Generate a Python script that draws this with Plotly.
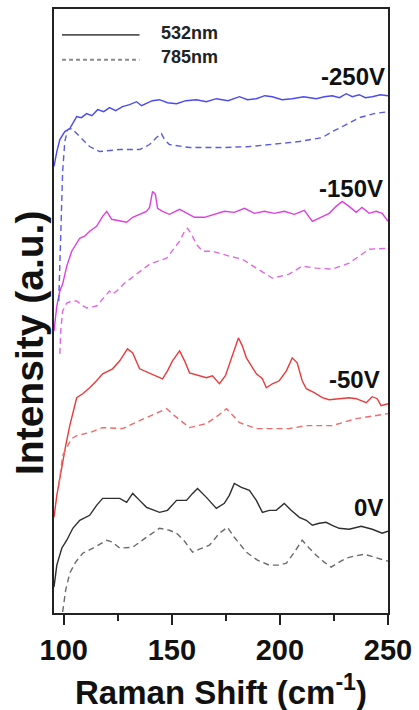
import plotly.graph_objects as go

# Raman spectra of films deposited at different substrate bias voltages.
# Each bias has a spectrum excited at 532 nm (solid) and at 785 nm (dashed);
# spectra are stacked vertically with arbitrary offsets (a.u.).

# ---- 0 V ----
x_0v_532 = [95.5, 96.8, 99.1, 101.4, 104.2, 107.4, 112.0, 115.2, 118.0, 121.2, 125.9, 129.1,
            131.9, 135.1, 138.3, 144.3, 148.0, 152.2, 156.8, 159.6, 161.9, 166.0, 170.6, 174.3,
            176.6, 178.9, 182.2, 185.9, 189.1, 191.9, 195.1, 198.3, 202.0, 205.2, 209.0, 212.2,
            215.0, 218.2, 221.4, 224.2, 227.4, 232.0, 237.6, 242.7, 247.3, 250.0]
y_0v_532 = [26, 48, 65, 73, 85, 93, 98, 108, 115, 115, 115, 111,
            120, 113, 106, 101, 103, 113, 113, 120, 125, 116, 105, 110,
            118, 130, 126, 123, 113, 101, 103, 103, 110, 103, 96, 93,
            88, 90, 91, 88, 85, 84, 87, 84, 80, 82]

x_0v_785 = [99.5, 100.9, 102.8, 105.5, 108.8, 114.3, 119.9, 122.6, 125.9, 131.9, 138.3, 144.3,
            148.9, 152.2, 155.9, 159.6, 162.8, 167.4, 172.0, 175.7, 178.9, 184.5, 189.6, 195.1,
            199.7, 203.0, 206.7, 210.3, 213.6, 216.8, 220.5, 223.7, 227.4, 230.7, 234.3, 239.0,
            243.6, 249.1, 250.0]
y_0v_785 = [1, 23, 40, 51, 60, 66, 73, 71, 65, 66, 76, 85,
            83, 80, 72, 61, 64, 68, 80, 86, 76, 61, 53, 48,
            48, 50, 61, 73, 65, 58, 51, 46, 51, 55, 57, 59,
            56, 53, 52]

# ---- -50 V ----
x_50v_532 = [95.5, 96.8, 98.2, 99.5, 100.9, 102.8, 104.6, 106.0, 108.8, 112.0, 115.2, 118.0,
             122.6, 125.9, 129.5, 131.9, 135.1, 139.7, 145.7, 148.0, 150.3, 153.6, 155.9, 158.2,
             162.8, 166.0, 168.8, 172.0, 174.8, 177.6, 180.8, 182.6, 184.5, 189.1, 191.9, 193.7,
             196.5, 199.7, 203.0, 205.7, 208.0, 210.3, 212.2, 215.9, 219.6, 222.8, 227.4, 232.0,
             235.3, 239.9, 242.7, 245.0, 246.8, 250.0]
y_50v_532 = [96, 118, 135, 153, 168, 188, 205, 216, 220, 226, 233, 240,
             245, 253, 265, 261, 245, 241, 235, 243, 253, 263, 253, 241,
             238, 236, 238, 230, 238, 256, 276, 268, 256, 240, 235, 226,
             230, 233, 243, 256, 251, 233, 225, 221, 216, 214, 215, 216,
             215, 211, 217, 215, 208, 210]

x_50v_785 = [97.7, 99.5, 101.4, 103.7, 106.0, 112.0, 118.0, 127.2, 135.1, 142.0, 147.6, 151.2,
             158.2, 166.0, 172.0, 175.3, 178.0, 181.3, 189.1, 204.3, 212.2, 224.2, 235.3, 250.0]
y_50v_785 = [128, 158, 166, 175, 178, 181, 186, 185, 193, 200, 205, 198,
             186, 190, 199, 205, 199, 191, 185, 185, 188, 188, 195, 200]

# ---- -150 V ----
x_150v_532 = [95.5, 96.8, 98.2, 99.5, 101.4, 103.7, 107.4, 109.7, 112.0, 115.2, 118.0, 119.9,
              122.2, 125.9, 129.1, 131.9, 135.1, 138.3, 139.7, 141.1, 142.4, 143.4, 145.7, 148.9,
              153.6, 156.8, 160.5, 165.1, 169.7, 174.3, 178.9, 183.6, 188.2, 192.8, 197.4, 202.0,
              206.7, 211.3, 215.0, 218.2, 222.8, 226.0, 228.8, 232.0, 235.3, 238.0, 241.3, 244.5,
              247.3, 250.0]
y_150v_532 = [283, 308, 323, 330, 348, 363, 376, 378, 383, 388, 398, 403,
              395, 393, 392, 397, 400, 403, 407, 423, 420, 406, 403, 400,
              405, 401, 397, 397, 400, 403, 402, 406, 401, 403, 401, 403,
              400, 404, 393, 396, 401, 408, 413, 408, 402, 407, 401, 403,
              401, 393]

x_150v_785 = [98.2, 98.6, 99.5, 101.4, 103.7, 106.0, 108.3, 110.6, 115.2, 118.0, 119.9, 121.2,
              122.6, 124.5, 128.2, 133.7, 139.7, 147.6, 153.6, 155.9, 157.3, 159.1, 161.4, 164.2,
              168.8, 176.6, 182.6, 189.1, 196.5, 204.3, 210.3, 216.8, 224.2, 232.0, 241.3, 250.0]
y_150v_785 = [260, 283, 303, 311, 313, 313, 309, 306, 308, 315, 319, 323,
              320, 323, 331, 340, 350, 356, 373, 383, 386, 380, 370, 363,
              363, 358, 355, 346, 336, 340, 348, 346, 345, 351, 365, 366]

# ---- -250 V ----
x_250v_532 = [95.5, 96.8, 98.2, 100.5, 102.8, 104.5, 106.0, 108.2, 110.6, 113.0, 115.7, 118.5,
              121.2, 124.0, 127.2, 130.5, 133.7, 136.0, 138.3, 141.0, 144.3, 148.0, 152.2, 156.5,
              161.4, 166.0, 170.6, 176.0, 181.3, 185.0, 189.1, 193.0, 196.5, 201.0, 205.7, 211.0,
              216.8, 220.5, 224.2, 227.5, 230.7, 233.5, 236.7, 239.5, 242.7, 246.5, 250.0]
y_250v_532 = [448, 463, 475, 483, 486, 493, 498, 497, 501, 499, 505, 503,
              507, 504, 508, 510, 513, 509, 511, 514, 515, 512, 511, 514,
              515, 513, 516, 514, 518, 515, 516, 519, 518, 515, 516, 518,
              516, 518, 519, 517, 521, 518, 520, 517, 518, 520, 519]

x_250v_785 = [97.7, 98.6, 99.5, 100.5, 101.8, 103.7, 107.4, 112.0, 116.6, 125.9, 135.1, 139.7,
              142.9, 145.2, 146.6, 148.9, 158.2, 173.4, 185.9, 196.5, 209.0, 219.6, 224.2, 229.8,
              236.7, 243.6, 250.0]
y_250v_785 = [313, 383, 443, 473, 485, 486, 478, 468, 463, 465, 465, 470,
              477, 481, 475, 470, 467, 467, 468, 470, 473, 477, 483, 489,
              497, 501, 503]

# Curve labels and their anchor points (right-aligned)
bias_labels = ["-250V", "-150V", "-50V", "0V"]
label_x = [249.4, 248.5, 247.0, 248.5]
label_y = [538, 426, 234, 106]

legend_labels = ["532nm", "785nm"]

x_ticks = [100, 150, 200, 250]

FONT = "Liberation Sans, Arial, Helvetica, sans-serif"
DASH = "6px,4px"

series = [
    (x_0v_532, y_0v_532, "#2e2e2e", "solid"),
    (x_0v_785, y_0v_785, "#6a6a6a", DASH),
    (x_50v_532, y_50v_532, "#ea3a3a", "solid"),
    (x_50v_785, y_50v_785, "#ef6a6a", DASH),
    (x_150v_532, y_150v_532, "#dd3fe0", "solid"),
    (x_150v_785, y_150v_785, "#e266e6", DASH),
    (x_250v_532, y_250v_532, "#4a4af0", "solid"),
    (x_250v_785, y_250v_785, "#5a5ae8", DASH),
]

fig = go.Figure()
for xs, ys, color, dash in series:
    fig.add_trace(go.Scatter(
        x=xs, y=ys, mode="lines",
        line=dict(color=color, width=1.4, dash=dash),
        showlegend=False, hoverinfo="skip",
    ))

# Bias voltage labels
for text, lx, ly in zip(bias_labels, label_x, label_y):
    fig.add_annotation(
        x=lx, y=ly, xref="x", yref="y", text=text, showarrow=False,
        xanchor="right", yanchor="middle",
        font=dict(family=FONT, size=24, color="#111", weight="bold"),
    )

# Hand-drawn style legend: line samples plus labels
legend_y = [0.957, 0.916]
legend_dash = ["solid", "4px,3px"]
legend_color = ["#555", "#8a8a8a"]
for lab, ly, dsh, col in zip(legend_labels, legend_y, legend_dash, legend_color):
    fig.add_shape(type="line", xref="paper", yref="paper",
                  x0=0.024, x1=0.256, y0=ly, y1=ly,
                  line=dict(color=col, width=1.8, dash=dsh))
    fig.add_annotation(
        x=0.315, y=ly + 0.004, xref="paper", yref="paper", text=lab,
        showarrow=False, xanchor="left", yanchor="middle",
        font=dict(family=FONT, size=18, color="#222", weight="bold"),
    )

# Axis titles
fig.add_annotation(
    x=-0.075, y=0.447, xref="paper", yref="paper", text="Intensity (a.u.)",
    textangle=-90, showarrow=False, xanchor="center", yanchor="middle",
    font=dict(family=FONT, size=39, color="#111", weight="bold"),
)
fig.add_annotation(
    x=0.5, y=-0.127, xref="paper", yref="paper",
    text="Raman Shift (cm<sup>-1</sup>)",
    showarrow=False, xanchor="center", yanchor="middle",
    font=dict(family=FONT, size=33, color="#111", weight="bold"),
)

fig.update_xaxes(
    range=[95.5, 250], tickvals=x_ticks, ticktext=[str(t) for t in x_ticks],
    ticks="outside", ticklen=10, tickwidth=2, tickcolor="#222",
    minor=dict(tickvals=[125, 175, 225], ticks="outside", ticklen=6,
               tickwidth=1.5, tickcolor="#222"),
    showline=True, linecolor="#222", linewidth=2, mirror=True,
    showgrid=False, zeroline=False,
    tickfont=dict(family=FONT, size=29, color="#111", weight="bold"),
)
fig.update_yaxes(
    range=[0, 606], showticklabels=False, ticks="",
    showline=True, linecolor="#222", linewidth=2, mirror=True,
    showgrid=False, zeroline=False,
)

fig.update_layout(
    width=419, height=710,
    margin=dict(l=54, r=29, t=7, b=97),
    paper_bgcolor="white", plot_bgcolor="white",
    showlegend=False,
)

fig.write_html("out.html")
